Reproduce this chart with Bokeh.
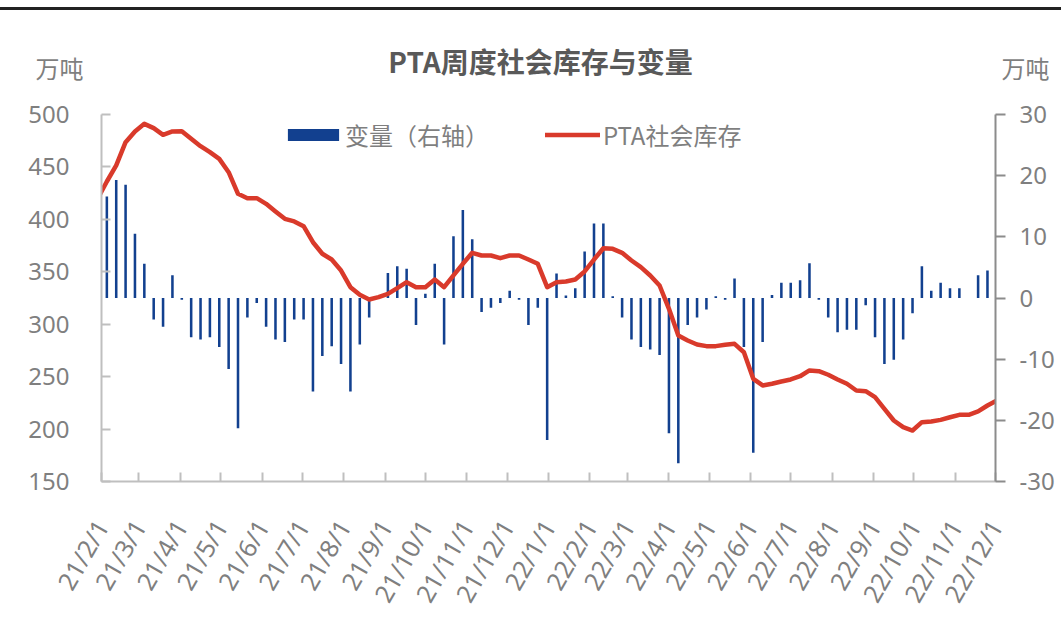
import math
import pandas as pd
from bokeh.plotting import figure
from bokeh.models import Range1d, LinearAxis, FixedTicker, Legend, LegendItem, Label, Div
from bokeh.layouts import column
from bokeh.embed import file_html
from bokeh.resources import INLINE

nan = float("nan")

# weekly observation dates (Fridays)
week_dates = pd.date_range("2021-01-29", periods=97, freq="7D")

# PTA social inventory (万吨, left axis)
inventory = [
    419.5, 436.1, 451.4, 473.6, 483.8, 491.1, 487.0, 480.6, 483.8, 484.1,
    476.8, 469.8, 464.1, 457.7, 445.0, 424.4, 420.2, 420.2, 414.8, 407.5,
    400.5, 398.0, 393.5, 378.2, 367.2, 361.7, 351.2, 335.3, 328.0, 323.6,
    325.8, 329.0, 334.4, 340.1, 335.3, 335.3, 342.6, 335.3, 346.5, 357.6,
    368.1, 365.5, 365.5, 363.0, 365.5, 365.5, 361.7, 357.6, 335.3, 340.1,
    340.7, 342.6, 350.3, 361.7, 372.5, 371.9, 368.1, 360.8, 354.4, 346.5,
    336.9, 314.7, 289.2, 284.5, 280.7, 279.1, 279.1, 280.4, 281.3, 273.3,
    247.9, 241.6, 243.2, 245.4, 247.3, 250.4, 255.9, 255.2, 251.8, 247.3,
    243.2, 236.8, 236.1, 230.4, 219.3, 208.2, 201.8, 198.6, 206.6, 207.2,
    208.8, 211.3, 213.6, 213.6, 216.8, 222.5, 227.3,
]

# weekly change (万吨, right axis)
change = [
    nan, 16.6, 19.3, 18.5, 10.5, 5.6, -3.5, -4.7, 3.7, -0.3,
    -6.4, -6.8, -6.4, -8.0, -11.6, -21.3, -3.2, -0.8, -4.7, -6.8,
    -7.2, -3.5, -3.5, -15.3, -9.5, -7.9, -10.8, -15.3, -7.6, -3.2,
    0.3, 4.1, 5.2, 4.8, -4.4, 0.7, 5.6, -7.6, 10.1, 14.4,
    9.6, -2.3, -1.6, -0.8, 1.2, -0.3, -4.4, -1.6, -23.2, 4.0,
    0.4, 1.6, 7.6, 12.2, 12.2, 0.3, -3.2, -6.8, -8.0, -8.4,
    -9.3, -22.1, -27.0, -4.4, -3.2, -1.9, 0.3, -0.3, 3.2, -8.0,
    -25.3, -7.2, 0.5, 2.5, 2.5, 2.9, 5.7, -0.3, -3.2, -5.6,
    -5.2, -5.2, -1.2, -6.4, -10.8, -10.1, -6.8, -2.5, 5.2, 1.2,
    2.5, 1.6, 1.6, 0.0, 3.7, 4.5, nan,
]

month_ticks = pd.date_range("2021-02-01", "2022-12-01", freq="MS")
tick_labels = [
    "21/2/1", "21/3/1", "21/4/1", "21/5/1", "21/6/1", "21/7/1", "21/8/1",
    "21/9/1", "21/10/1", "21/11/1", "21/12/1", "22/1/1", "22/2/1", "22/3/1",
    "22/4/1", "22/5/1", "22/6/1", "22/7/1", "22/8/1", "22/9/1", "22/10/1",
    "22/11/1", "22/12/1",
]
left_ticks = [150, 200, 250, 300, 350, 400, 450, 500]
right_ticks = [-30, -20, -10, 0, 10, 20, 30]
right_labels = ["-30", "-20", "-10", "0", "10", "20", "30"]

NAVY = "#12408f"
RED = "#d93a2b"
CJK = "Noto Sans CJK SC"
NUM = "Noto Sans"
GREY = "#7f7f7f"

p = figure(
    width=1061, height=627,
    x_axis_type="datetime",
    x_range=Range1d(pd.Timestamp("2021-02-01"), pd.Timestamp("2022-12-01")),
    y_range=Range1d(150, 500),
    output_backend="svg", toolbar_location=None,
    min_border_left=101, min_border_right=66, min_border_top=111, min_border_bottom=149,
)
p.outline_line_color = None
p.xgrid.visible = False
p.ygrid.visible = False
p.background_fill_color = "white"
p.border_fill_color = "white"

p.extra_y_ranges = {"chg": Range1d(-30, 30)}

day_ms = 86400000
bars = p.vbar(x=week_dates, top=change, bottom=0, width=1.9 * day_ms,
              y_range_name="chg", fill_color=NAVY, line_color=None)
line = p.line(x=week_dates, y=inventory, line_color=RED, line_width=4.5,
              line_join="round", line_cap="round")

# x axis
tick_ms = [int(t.value // 10**6) for t in month_ticks]
xa = p.xaxis[0]
xa.ticker = FixedTicker(ticks=tick_ms)
xa.major_label_overrides = {t: s for t, s in zip(tick_ms, tick_labels)}
xa.major_label_orientation = math.pi / 3
xa.major_tick_in = 9
xa.major_tick_out = 0
xa.minor_tick_line_color = None
xa.axis_line_color = "#bfbfbf"
xa.axis_line_width = 2
xa.major_tick_line_color = "#bfbfbf"
xa.major_tick_line_width = 2
xa.major_label_text_font = NUM
xa.major_label_text_font_size = "25px"
xa.major_label_text_color = GREY
xa.major_label_standoff = 40

# left axis
ya = p.yaxis[0]
ya.ticker = FixedTicker(ticks=left_ticks)
ya.major_tick_in = 9
ya.major_tick_out = 0
ya.minor_tick_line_color = None
ya.axis_line_color = "#bfbfbf"
ya.axis_line_width = 2
ya.major_tick_line_color = "#bfbfbf"
ya.major_tick_line_width = 2
ya.major_label_text_font = NUM
ya.major_label_text_font_size = "24px"
ya.major_label_text_color = GREY
ya.major_label_standoff = 32

# right axis
ra = LinearAxis(y_range_name="chg", ticker=FixedTicker(ticks=right_ticks))
ra.major_label_overrides = {t: s for t, s in zip(right_ticks, right_labels)}
ra.major_tick_in = 0
ra.major_tick_out = 10
ra.minor_tick_line_color = None
ra.axis_line_color = "#8c8c8c"
ra.axis_line_width = 2
ra.major_tick_line_color = "#8c8c8c"
ra.major_tick_line_width = 2
ra.major_label_text_font = NUM
ra.major_label_text_font_size = "24px"
ra.major_label_text_color = GREY
ra.major_label_standoff = 14
p.add_layout(ra, "right")

# legends
leg1 = Legend(items=[LegendItem(label="变量（右轴）", renderers=[bars])],
              location=(180, 329), orientation="horizontal",
              glyph_width=64, glyph_height=15, label_standoff=0,
              padding=0, margin=0, border_line_color=None,
              background_fill_alpha=0,
              label_text_font=CJK, label_text_font_size="24px",
              label_text_color=GREY)
leg2 = Legend(items=[LegendItem(label="PTA社会库存", renderers=[line])],
              location=(444, 329), orientation="horizontal",
              glyph_width=55, glyph_height=15, label_standoff=3,
              padding=0, margin=0, border_line_color=None,
              background_fill_alpha=0,
              label_text_font=CJK, label_text_font_size="24px",
              label_text_color=GREY)
p.add_layout(leg1)
p.add_layout(leg2)

# title and unit labels (placed in the top panel, canvas coordinates)
p.add_layout(Label(x=540, y=57, x_units="canvas", y_units="canvas",
                   text="PTA周度社会库存与变量", text_align="center",
                   text_baseline="middle", text_font=CJK,
                   text_font_size="28px", text_font_style="bold",
                   text_color="#595959"), "above")
p.add_layout(Label(x=59, y=64, x_units="canvas", y_units="canvas",
                   text="万吨", text_align="center", text_baseline="middle",
                   text_font=CJK, text_font_size="24px", text_color=GREY), "above")
p.add_layout(Label(x=1025, y=64, x_units="canvas", y_units="canvas",
                   text="万吨", text_align="center", text_baseline="middle",
                   text_font=CJK, text_font_size="24px", text_color=GREY), "above")

rule = Div(text="", width=1061, height=3, margin=0,
           styles={"background-color": "#222222", "position": "relative",
                   "top": "7px", "z-index": "10"})

layout = column(rule, p, spacing=0)
open("out.html", "w").write(file_html(layout, INLINE))
